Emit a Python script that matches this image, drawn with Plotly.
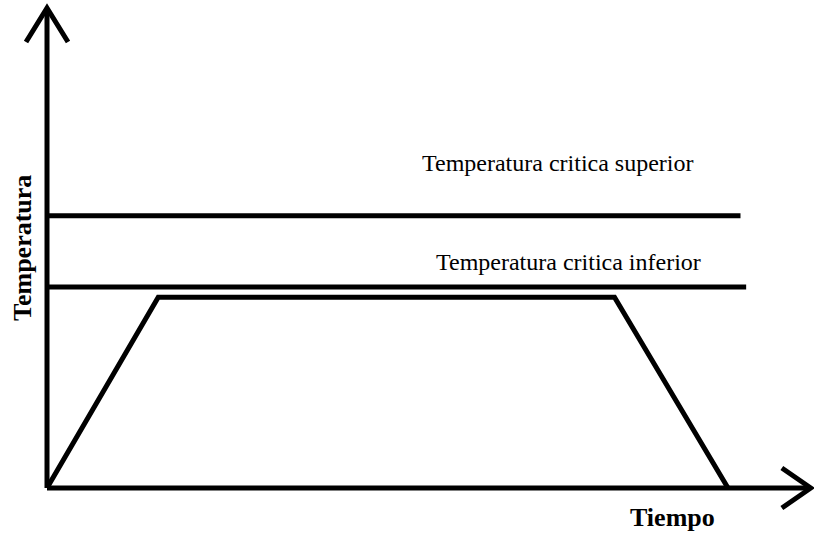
import plotly.graph_objects as go

# Heating cycle: time (min) vs temperature (degC)
tiempo = [0, 9.8, 50, 60]
temperatura = [0, 690, 690, 0]

# critical temperature lines
critica_superior = 985
critica_inferior = 727
fin_superior = 61.1
fin_inferior = 61.6

etiqueta_superior = "Temperatura critica superior"
etiqueta_inferior = "Temperatura critica inferior"
titulo_x = "Tiempo"
titulo_y = "Temperatura"

# axis extents (where the arrows end)
eje_x_fin = 67.3
eje_y_fin = 1736

# pixel scale used for the arrowheads / label offsets
px_x = 1 / 11.35
px_y = 1 / 0.2765

W, H = 814, 533
x_range = [-47 * px_x, (W - 47) * px_x]
y_range = [-(H - 488) * px_y, 488 * px_y]

negro = "black"
ancho = 5

fig = go.Figure()

def linea(x, y, w=ancho):
    fig.add_trace(go.Scatter(x=x, y=y, mode="lines",
                             line=dict(color=negro, width=w),
                             hoverinfo="skip", showlegend=False))

# axes
linea([0, 0], [0, eje_y_fin])
linea([0, eje_x_fin], [0, 0])
# arrowheads
linea([-21 * px_x, 0, 21 * px_x], [eje_y_fin - 34 * px_y, eje_y_fin, eje_y_fin - 34 * px_y])
linea([eje_x_fin - 29 * px_x, eje_x_fin, eje_x_fin - 29 * px_x],
      [20 * px_y, 0, -20 * px_y])

# critical lines
linea([0, fin_superior], [critica_superior, critica_superior])
linea([0, fin_inferior], [critica_inferior, critica_inferior])

# heating cycle
linea(tiempo, temperatura)

fuente = "Liberation Serif"
fig.add_annotation(x=32.9, y=critica_superior + 53 * px_y, text=etiqueta_superior,
                   xanchor="left", yanchor="middle", showarrow=False,
                   font=dict(family=fuente, size=24, color=negro))
fig.add_annotation(x=34.1, y=critica_inferior + 25 * px_y, text=etiqueta_inferior,
                   xanchor="left", yanchor="middle", showarrow=False,
                   font=dict(family=fuente, size=24, color=negro))
fig.add_annotation(x=672 / W, y=0, xref="paper", yref="paper",
                   text="<b>" + titulo_x + "</b>", showarrow=False,
                   xanchor="center", yanchor="bottom", borderpad=0,
                   font=dict(family=fuente, size=26, color=negro))
fig.add_annotation(x=22 / W, y=1 - 248 / H, xref="paper", yref="paper",
                   text="<b>" + titulo_y + "</b>", showarrow=False, textangle=-90,
                   xanchor="center", yanchor="middle",
                   font=dict(family=fuente, size=26, color=negro))

fig.update_layout(
    width=W, height=H,
    margin=dict(l=0, r=0, t=0, b=0),
    paper_bgcolor="white", plot_bgcolor="white",
    xaxis=dict(range=x_range, visible=False, fixedrange=True),
    yaxis=dict(range=y_range, visible=False, fixedrange=True),
)

fig.write_html("out.html", config={"displayModeBar": False},
               post_script="document.body.style.margin='0';")
